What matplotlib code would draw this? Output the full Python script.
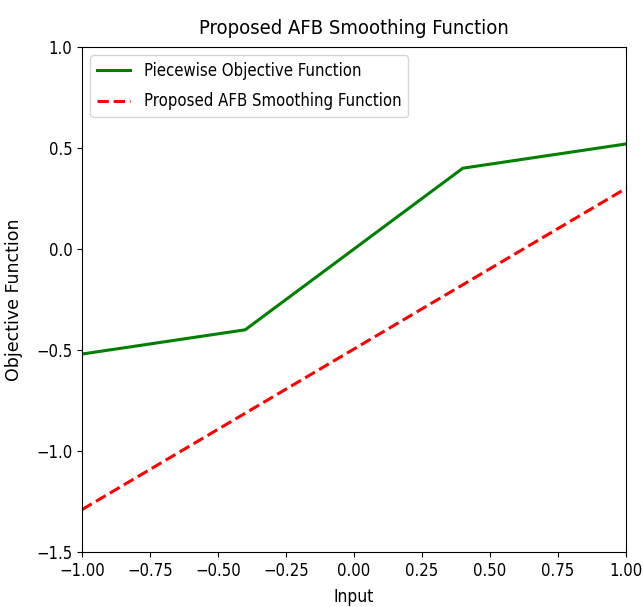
import matplotlib
matplotlib.use("Agg")
import matplotlib.pyplot as plt
import numpy as np

# Data
piecewise_x = [-1.0, -0.4, 0.4, 1.0]
piecewise_y = [-0.52, -0.40, 0.40, 0.52]
smooth_x = [-1.0, 1.0]
smooth_y = [-1.29, 0.30]

x_ticks = [-1.00, -0.75, -0.50, -0.25, 0.00, 0.25, 0.50, 0.75, 1.00]
y_ticks = [-1.5, -1.0, -0.5, 0.0, 0.5, 1.0]

plt.rcParams['font.family'] = ['DejaVu Sans']
plt.rcParams['font.stretch'] = 'condensed'

fig = plt.figure(figsize=(6.43, 6.07), dpi=100)
ax = fig.add_axes([82/643, 1-552/607, (626-82)/643, (552-47)/607])

ax.plot(piecewise_x, piecewise_y, color='green', lw=2.2, label='Piecewise Objective Function')
ax.plot(smooth_x, smooth_y, color='red', lw=2.2, ls='--', label='Proposed AFB Smoothing Function')

ax.set_xlim(-1, 1)
ax.set_ylim(-1.5, 1.0)
ax.set_xticks(x_ticks)
ax.set_xticklabels([f"{v:.2f}".replace('-', '\u2212') for v in x_ticks])
ax.set_yticks(y_ticks)
ax.set_yticklabels([f"{v:.1f}".replace('-', '\u2212') for v in y_ticks])
ax.tick_params(labelsize=12)
ax.set_title('Proposed AFB Smoothing Function', fontsize=14.5, pad=9)
ax.set_xlabel('Input', fontsize=12.5, labelpad=6, fontstretch='condensed')
ax.set_ylabel('Objective Function', fontsize=12.5, fontstretch='normal')
ax.yaxis.set_label_coords(-0.108, 0.5)
leg = ax.legend(loc='upper left', fontsize=12, borderaxespad=0.5,
                labelspacing=0.75, handlelength=2.0)

fig.savefig('out.png', dpi=100)
